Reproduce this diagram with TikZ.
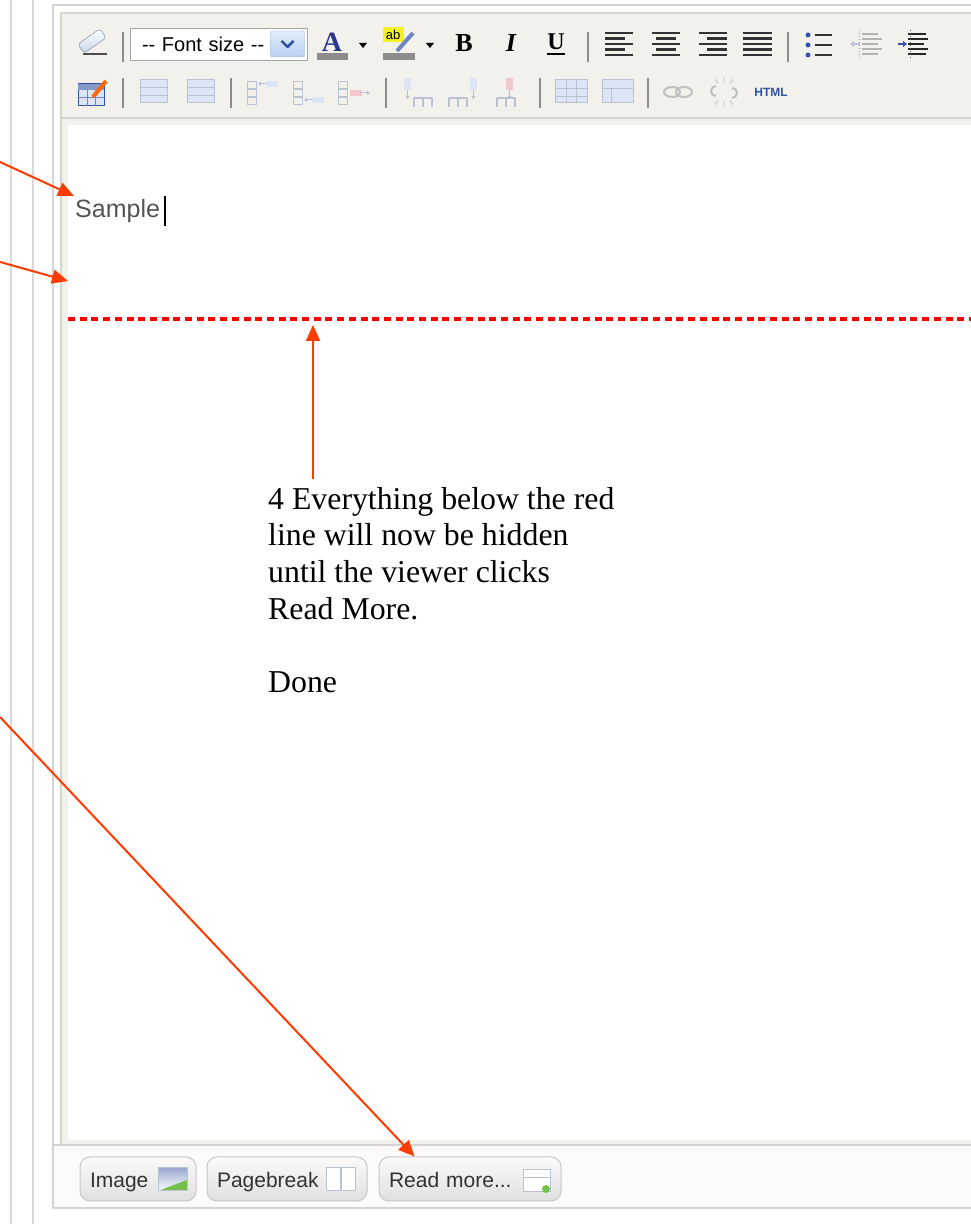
\documentclass[tikz,border=0pt]{standalone}
\usepackage{fontspec}
\setmainfont{Liberation Serif}
\setsansfont{Liberation Sans}
\usepackage{tikz}
\usetikzlibrary{arrows.meta}
\usetikzlibrary{shapes.geometric}
\usetikzlibrary{positioning}
\definecolor{calloutred}{rgb}{1.0,0.23,0.0}
\definecolor{dashred}{rgb}{1.0,0.0,0.0}
\definecolor{guidegrey}{rgb}{0.85,0.85,0.85}
\definecolor{framegrey}{rgb}{0.83,0.83,0.83}
\definecolor{panelbeige}{rgb}{0.953,0.945,0.925}
\definecolor{panelline}{rgb}{0.84,0.83,0.80}
\definecolor{footfill}{rgb}{0.99,0.98,0.99}
\definecolor{sepgrey}{rgb}{0.55,0.55,0.55}
\definecolor{btnline}{rgb}{0.78,0.78,0.78}
\definecolor{btntop}{rgb}{0.98,0.98,0.98}
\definecolor{btnbot}{rgb}{0.88,0.88,0.88}
\definecolor{textgrey}{rgb}{0.2,0.2,0.2}
\definecolor{samplegrey}{rgb}{0.33,0.33,0.33}
\definecolor{iconblue}{rgb}{0.2,0.33,0.65}
\definecolor{fontblue}{rgb}{0.16,0.22,0.55}
\definecolor{barfill}{rgb}{0.55,0.55,0.55}
\definecolor{hiyellow}{rgb}{0.95,0.95,0.15}
\definecolor{eraserblue}{rgb}{0.78,0.84,0.92}
\definecolor{eraserline}{rgb}{0.45,0.5,0.6}
\definecolor{boxline}{rgb}{0.65,0.65,0.65}
\definecolor{dropline}{rgb}{0.6,0.7,0.86}
\definecolor{dropblue}{rgb}{0.72,0.82,0.95}
\definecolor{dimgrey}{rgb}{0.72,0.76,0.82}
\definecolor{dimblue}{rgb}{0.86,0.90,0.96}
\definecolor{dimpink}{rgb}{0.95,0.78,0.80}
\definecolor{leafgreen}{rgb}{0.45,0.75,0.3}
\tikzset{callout/.style={draw=calloutred, line width=2bp, -{Triangle[length=16bp,width=14bp]}},
  pagebreak/.style={draw=dashred, line width=3.5bp, dash pattern=on 7bp off 4.7bp},
  sepbar/.style={draw=sepgrey, line width=1.5bp},
  alignbar/.style={draw=black!80, line width=2.8bp},
  dimcell/.style={draw=dimgrey, fill=dimblue, line width=1bp},
  btn/.style={draw=btnline, line width=1bp, rounded corners=10bp, top color=btntop, bottom color=btnbot, minimum height=44bp, inner xsep=10bp, inner ysep=0pt, align=left, text height=16bp, text depth=0bp, text=textgrey, font=\sffamily\fontsize{21bp}{24bp}\selectfont}}

\begin{document}
\begin{tikzpicture}[line join=bevel,]
\useasboundingbox (0bp,0bp) rectangle (971bp,1224bp);
\clip (0bp,0bp) rectangle (971bp,1224bp);
%%
\begin{scope}
  \pgfsetstrokecolor{white}
  \pgfsetfillcolor{white}
  \filldraw (0.0bp,0.0bp) -- (0.0bp,1224.0bp) -- (971.0bp,1224.0bp) -- (971.0bp,0.0bp) -- cycle;
\end{scope}
  \draw [draw=guidegrey, line width=2bp] (11bp,0bp) -- (11bp,1224bp);
  \draw [draw=guidegrey, line width=2bp] (33bp,0bp) -- (33bp,1224bp);
  \draw [draw=framegrey, line width=1.5bp] (990bp,1219bp) -- (53bp,1219bp) -- (53bp,16bp) -- (990bp,16bp);
  \fill [panelbeige] (61bp,79bp) rectangle (990bp,1211bp);
  \draw [draw=panelline, line width=1.2bp] (990bp,1211bp) -- (61bp,1211bp) -- (61bp,79bp);
  \draw [draw=panelline, line width=1.5bp] (61bp,1106bp) -- (990bp,1106bp);
  \fill [white] (68bp,84bp) rectangle (990bp,1099bp);
  \fill [footfill] (53.8bp,16.8bp) rectangle (990bp,79bp);
  \draw [draw=framegrey, line width=1.2bp] (53.8bp,79bp) -- (990bp,79bp);
%
  \node (eraser) at (92bp,1183bp) [draw=eraserline, top color=white, bottom color=eraserblue, rounded corners=3bp, minimum width=27bp, minimum height=11bp, inner sep=0pt, rotate=35] {};
  \draw [draw=black!70, line width=1.5bp] (83bp,1170bp) -- (107bp,1170bp);
  \draw [sepbar] (123bp,1192bp) -- (123bp,1162bp);
  \node (fontsel) at (218.5bp,1180bp) [draw=boxline, fill=white, minimum height=32bp, text width=153bp, inner xsep=12bp, inner ysep=0pt, align=left, font=\sffamily\fontsize{20bp}{22bp}\selectfont] {-{}- Font size -{}-};
  \node (fontdrop) at (287.5bp,1180bp) [draw=dropline, top color=dropblue!40, bottom color=dropblue, rounded corners=2bp, minimum width=34bp, minimum height=26bp, inner sep=0pt] {};
  \draw [draw=iconblue, line width=2.5bp] (281.5bp,1183bp) -- (287.5bp,1177bp) -- (293.5bp,1183bp);
  \node (forecolor) at (332bp,1182bp) [inner sep=0pt, text=fontblue, font=\bfseries\fontsize{28bp}{30bp}\selectfont] {A};
  \fill [barfill] (317bp,1164bp) rectangle (348bp,1171bp);
  \fill (359bp,1181bp) -- (367bp,1181bp) -- (363bp,1176bp) -- cycle;
  \fill [hiyellow] (383bp,1182bp) rectangle (404bp,1197bp);
  \node (backcolor) at (393bp,1189bp) [inner sep=0pt, font=\sffamily\fontsize{13bp}{14bp}\selectfont] {ab};
  \draw [draw=iconblue!70, line width=4bp] (397bp,1173bp) -- (413bp,1191bp);
  \fill [barfill] (383bp,1164bp) rectangle (415bp,1171bp);
  \fill (426bp,1181bp) -- (434bp,1181bp) -- (430bp,1176bp) -- cycle;
  \node (bold) at (464bp,1181bp) [inner sep=0pt, font=\bfseries\fontsize{26bp}{28bp}\selectfont] {B};
  \node (italic) at (511bp,1181bp) [inner sep=0pt, font=\bfseries\itshape\fontsize{26bp}{28bp}\selectfont] {I};
  \node (underline) at (556bp,1182bp) [inner sep=0pt, font=\bfseries\fontsize{24bp}{26bp}\selectfont] {U};
  \draw [line width=2.5bp] (547bp,1170bp) -- (565bp,1170bp);
  \draw [sepbar] (588bp,1192bp) -- (588bp,1162bp);
  \foreach \y/\w in {1191/28,1185.5/20,1180/28,1174.5/20,1169/28}
    \draw [alignbar] (605bp,\y bp) -- ++(\w bp,0bp);
  \foreach \y/\w in {1191/28,1185.5/20,1180/28,1174.5/20,1169/28}
    \draw [alignbar] (666bp,\y bp) ++(-0.5*\w bp,0bp) -- ++(\w bp,0bp);
  \foreach \y/\w in {1191/28,1185.5/20,1180/28,1174.5/20,1169/28}
    \draw [alignbar] (727bp,\y bp) -- ++(-\w bp,0bp);
  \foreach \y in {1191,1185.5,1180,1174.5,1169}
    \draw [alignbar] (743bp,\y bp) -- ++(29bp,0bp);
  \draw [sepbar] (788bp,1192bp) -- (788bp,1162bp);
  \foreach \y in {1189,1179,1169} {
    \fill [iconblue] (808bp,\y bp) circle (2.5bp);
    \draw [draw=black!80, line width=2.5bp] (815bp,\y bp) -- (832bp,\y bp);
  }
  \foreach \y/\w in {1190/16,1185/20,1180/16,1175/20,1170/16}
    \draw [draw=black!30, line width=2.5bp] (862bp,\y bp) -- ++(\w bp,0bp);
  \draw [draw=iconblue!35, line width=2bp, -{Triangle[length=4bp,width=6bp]}] (860bp,1180bp) -- (850bp,1180bp);
  \draw [draw=black!40, line width=1bp, dash pattern=on 1.5bp off 1.5bp] (859bp,1194bp) -- (859bp,1166bp);
  \foreach \y/\w in {1190/18,1185/20,1180/16,1175/20,1170/18}
    \draw [draw=black!85, line width=2.5bp] (908bp,\y bp) -- ++(\w bp,0bp);
  \draw [draw=iconblue, line width=2bp, -{Triangle[length=4bp,width=6bp]}] (898bp,1180bp) -- (907bp,1180bp);
  \draw [draw=black!60, line width=1bp, dash pattern=on 1.5bp off 1.5bp] (910bp,1194bp) -- (910bp,1166bp);
%
  \node (tabledit) at (91bp,1129bp) [dimcell, draw=iconblue, minimum width=26bp, minimum height=22bp, inner sep=0pt] {};
  \fill [iconblue!60] (78bp,1134bp) rectangle (104bp,1140bp);
  \draw [draw=iconblue!70, line width=0.8bp] (78bp,1127bp) -- (104bp,1127bp) (87bp,1118bp) -- (87bp,1134bp) (95bp,1118bp) -- (95bp,1134bp);
  \draw [draw=orange!80!red, line width=4bp] (93bp,1127bp) -- (106bp,1143bp);
  \draw [sepbar] (123bp,1146bp) -- (123bp,1116bp);
  \foreach \x in {140,187} {
    \draw [dimcell] (\x bp,1121bp) rectangle ++(27bp,23bp);
    \draw [draw=dimgrey, line width=0.8bp] (\x bp,1137bp) -- ++(27bp,0bp) (\x bp,1129bp) -- ++(27bp,0bp);
  }
  \draw [sepbar] (231bp,1146bp) -- (231bp,1116bp);
  \foreach \x in {247,293,338}
    \foreach \y in {1119,1127,1135}
      \draw [draw=dimgrey, line width=1bp] (\x bp,\y bp) rectangle ++(9bp,7bp);
  \fill [dimblue] (266bp,1137bp) rectangle (278bp,1143bp);
  \draw [draw=dimgrey, line width=1bp, -{Triangle[length=3bp,width=4bp]}] (266bp,1140bp) -- (258bp,1140bp);
  \fill [dimblue] (312bp,1121bp) rectangle (324bp,1127bp);
  \draw [draw=dimgrey, line width=1bp, -{Triangle[length=3bp,width=4bp]}] (312bp,1124bp) -- (304bp,1124bp);
  \fill [dimpink] (350bp,1128bp) rectangle (362bp,1134bp);
  \draw [draw=dimgrey, line width=1bp, -{Triangle[length=3bp,width=4bp]}] (360bp,1131bp) -- (370bp,1131bp);
  \draw [sepbar] (386bp,1146bp) -- (386bp,1116bp);
  \foreach \x/\c in {404/dimblue,470/dimblue,506/dimpink} {
    \fill [\c] (\x bp,1134bp) rectangle ++(7bp,12bp);
    \draw [draw=dimgrey, line width=1bp, -{Triangle[length=3bp,width=4bp]}] (\x bp,1134bp) ++(3.5bp,0bp) -- ++(0bp,-9bp);
  }
  \foreach \x in {414,449,497}
    \draw [draw=dimgrey, line width=1.2bp] (\x bp,1117bp) -- ++(0bp,9bp) -- ++(18bp,0bp) -- ++(0bp,-9bp) (\x bp,1126bp) ++(9bp,0bp) -- ++(0bp,-9bp);
  \draw [sepbar] (540bp,1146bp) -- (540bp,1116bp);
  \draw [dimcell] (555bp,1121bp) rectangle (587bp,1144bp);
  \draw [draw=dimgrey, line width=0.8bp] (555bp,1136bp) -- (587bp,1136bp) (555bp,1128bp) -- (587bp,1128bp) (566bp,1121bp) -- (566bp,1144bp) (576bp,1121bp) -- (576bp,1144bp);
  \draw [dimcell] (602bp,1121bp) rectangle (633bp,1144bp);
  \draw [draw=dimgrey, line width=0.8bp] (602bp,1136bp) -- (633bp,1136bp) (611bp,1121bp) -- (611bp,1136bp);
  \draw [sepbar] (648bp,1146bp) -- (648bp,1116bp);
  \draw [draw=black!25, line width=2bp] (672bp,1132bp) ellipse (8bp and 5bp) (684bp,1132bp) ellipse (8bp and 5bp);
  \draw [draw=black!25, line width=2bp] (716bp,1128bp) arc (270:90:5bp) (732bp,1136bp) arc (90:-90:5bp);
  \draw [draw=black!20, line width=1bp] (724bp,1141bp) -- (724bp,1147bp) (718bp,1140bp) -- (715bp,1145bp) (730bp,1140bp) -- (733bp,1145bp) (724bp,1123bp) -- (724bp,1117bp) (718bp,1124bp) -- (715bp,1119bp) (730bp,1124bp) -- (733bp,1119bp);
  \node (htmlsrc) at (771bp,1132bp) [inner sep=0pt, text=iconblue, font=\sffamily\bfseries\fontsize{12bp}{13bp}\selectfont] {HTML};
%
  \draw [pagebreak] (68bp,905bp) -- (990bp,905bp);
  \node (sample) at (75bp,1006bp) [anchor=base west, inner sep=0pt, text=samplegrey, font=\sffamily\fontsize{25bp}{28bp}\selectfont] {Sample};
  \draw [line width=1.3bp] (165bp,998bp) -- (165bp,1028bp);
  \node (note) at (268bp,737bp) [anchor=north west, inner sep=0pt, align=left, font=\fontsize{31.8bp}{36.7bp}\selectfont] {4 Everything below the red\\line will now be hidden\\until the viewer clicks\\Read More.\\[36.7bp]Done};
%
  \node (imgbtn) at (138bp,45bp) [btn, text width=96bp] {Image};
  \shade [top color=iconblue!50, bottom color=white] (158bp,33bp) rectangle (187bp,56bp);
  \fill [leafgreen] (158bp,33bp) -- (187bp,44bp) -- (187bp,33bp) -- cycle;
  \draw [draw=dimgrey, line width=1bp] (158bp,33bp) rectangle (187bp,56bp);
  \node (pbbtn) at (287bp,45bp) [btn, text width=140bp] {Pagebreak};
  \draw [dimcell, fill=white] (326bp,33bp) rectangle (340bp,56bp) (341bp,33bp) rectangle (355bp,56bp);
  \node (rmbtn) at (470bp,45bp) [btn, text width=162bp] {Read more...};
  \draw [dimcell, fill=white] (523bp,32bp) rectangle (550bp,54bp);
  \draw [draw=dimgrey, line width=1bp] (523bp,46bp) -- (550bp,46bp);
  \fill [leafgreen] (546bp,35bp) circle (4bp);
%
  \coordinate (left1) at (0bp,1062bp);
  \coordinate (left2) at (0bp,962bp);
  \coordinate (left3) at (0bp,507bp);
  \coordinate (emptyline) at (68bp,943bp);
  \coordinate (brk) at (313bp,899bp);
  \draw [callout] (left1) -- (74bp,1028bp);
  \draw [callout] (left2) -- (emptyline);
  \draw [callout] (left3) -- ([xshift=36bp]rmbtn.north west);
  \draw [callout] ([xshift=45bp,yshift=8bp]note.north west) -- (brk);
%
\end{tikzpicture}
\end{document}
